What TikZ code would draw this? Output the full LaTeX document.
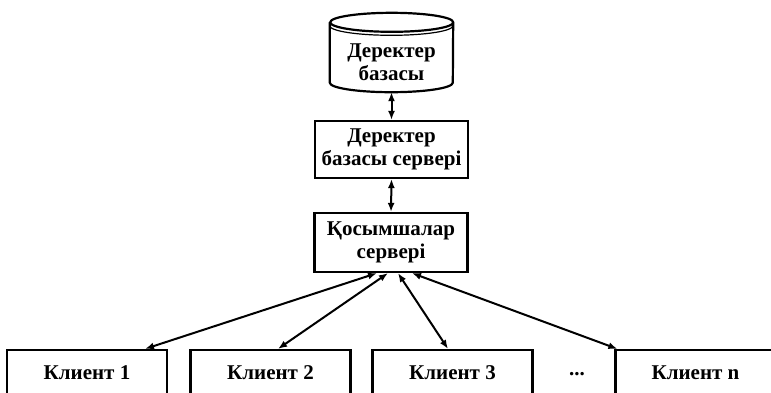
\documentclass[tikz,border=0pt]{standalone}
\usepackage{fontspec}
\setmainfont{Liberation Serif}
\usetikzlibrary{arrows.meta,positioning}

\begin{document}
\begin{tikzpicture}[
  x=1pt, y=-1pt,
  font=\fontsize{21}{23}\selectfont\bfseries,
  every node/.style={inner sep=0pt},
  box/.style={draw=black, fill=white, line width=2.2pt,
    minimum width=153pt, align=center},
  client/.style={draw=black, fill=white, line width=2.2pt,
    minimum width=160pt, minimum height=46pt},
  dbline/.style={draw=black, line width=2.2pt},
  link/.style={{Latex[length=9pt, width=7pt]}-{Latex[length=9pt, width=7pt]},
    line width=2pt, draw=black},
]

\useasboundingbox (0,0) rectangle (771,392);
\clip (0,0) rectangle (771,392);

% ===== DATABASE (cylinder) =====
\node[align=center, minimum width=123pt, minimum height=60pt] (db) at (391.5,62) {Деректер\\базасы};
\draw[dbline] ([yshift=9.5pt]db.north west) -- ([yshift=9.5pt]db.south west)
  arc[start angle=180, end angle=360, x radius=61.5pt, y radius=9.5pt]
  -- ([yshift=9.5pt]db.north east)
  arc[start angle=0, end angle=360, x radius=61.5pt, y radius=9.5pt];
\draw[dbline, line width=1.2pt] ([yshift=6pt]db.north west)
  arc[start angle=180, end angle=360, x radius=61.5pt, y radius=9.5pt];

% ===== SERVERS =====
\node[box, minimum height=57pt] (srv) at (391.5,149.5) {Деректер\\базасы сервері};
\node[box, minimum height=59pt] (app) at (391,242.5) {Қосымшалар\\сервері};

% ===== CLIENTS =====
\node[client] (k1) at (87,373)    {Клиент 1};
\node[client] (k2) at (270.5,373) {Клиент 2};
\node[client] (k3) at (452.5,373) {Клиент 3};
\node (dots) at (577,374) {...};
\node[client] (kn) at (695.5,373) {Клиент n};

% ===== ARROWS =====
\draw[link] (db.south) -- (srv.north);
\draw[link] (srv.south) -- (app.north);
\draw[link] ([xshift=-14pt]app.south) -- ([xshift=58pt]k1.north);
\draw[link] ([xshift=-3pt]app.south) -- ([xshift=7.5pt]k2.north);
\draw[link] ([xshift=7pt]app.south) -- ([xshift=-4.5pt]k3.north);
\draw[link] ([xshift=21pt]app.south) -- ([xshift=3pt]kn.north west);

\end{tikzpicture}
\end{document}
